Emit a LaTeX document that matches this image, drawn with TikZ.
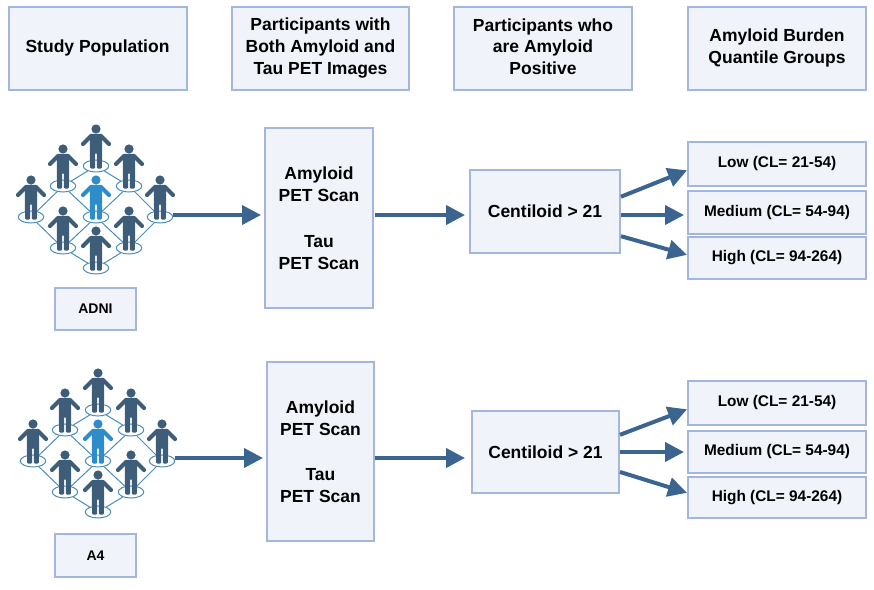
\documentclass[tikz,border=0pt]{standalone}
\usepackage{fontspec}
\setmainfont{Liberation Sans}
\usepackage{xcolor}
\usetikzlibrary{arrows.meta,shapes.geometric}
\definecolor{boxfill}{HTML}{F0F4FA}
\definecolor{boxline}{HTML}{A3B6DE}
\definecolor{flow}{HTML}{3B6491}
\definecolor{figure}{HTML}{3D5D78}
\definecolor{figureblue}{HTML}{2F8CCB}
\definecolor{net}{HTML}{4A8DBE}
\tikzstyle{box}=[draw=boxline,fill=boxfill,line width=2pt,inner sep=0pt,align=center,font=\fontsize{17.5}{22}\bfseries]
\tikzstyle{small}=[box,font=\fontsize{15.4}{18}\bfseries]
\tikzstyle{tag}=[box,font=\fontsize{14}{18}\bfseries]
\tikzstyle{flowline}=[draw=flow,line width=4pt,-{Triangle[length=19pt,width=19pt]}]
\tikzstyle{spot}=[draw=net,fill=white,ellipse,line width=1pt,minimum width=25.5pt,minimum height=12pt,inner sep=0pt]
\tikzstyle{link}=[draw=net,line width=1pt]
\tikzset{
  person/.pic={
    \fill (0,-37) circle (4.6);
    \draw [line width=4.2pt,line cap=round,line join=round] (-13,-22) -- (-5,-30) -- (5,-30) -- (13,-22);
    \fill [rounded corners=1pt] (-6.2,-32) -- (6.2,-32) -- (6.2,-14) -- (5.8,2.5) -- (0.8,2.5) -- (0.8,-13) -- (-0.8,-13) -- (-0.8,2.5) -- (-5.8,2.5) -- (-6.2,-14) -- cycle;
  }
}
\begin{document}
\begin{tikzpicture}[x=1pt,y=-1pt]
  \useasboundingbox (0,0) rectangle (874,589);
  % header row
  \node [box,minimum width=178pt,minimum height=83pt] (head1) at (97.5,48) {Study Population};
  \node [box,minimum width=177pt,minimum height=83pt] (head2) at (320.5,48) {Participants with\\Both Amyloid and\\Tau PET Images};
  \node [box,minimum width=178pt,minimum height=83pt] (head3) at (543,48) {Participants who\\[-0.5pt]are Amyloid\\[-0.5pt]Positive\\[-19pt]\mbox{}};
  \node [box,minimum width=178pt,minimum height=83pt] (head4) at (777,48) {\raisebox{-1pt}{Amyloid Burden}\\\raisebox{-1pt}{Quantile Groups}};
  % ADNI
  \node [tag,minimum width=81pt,minimum height=42pt] (adni) at (95.5,309) {ADNI};
  \node [box,minimum width=108pt,minimum height=180pt] (petA) at (319,218) {Amyloid\\PET Scan\\[23.5pt]Tau\\PET Scan};
  \node [box,minimum width=150pt,minimum height=83pt] (centA) at (545,211.5) {Centiloid > 21};
  \node [small,minimum width=178pt,minimum height=44pt] (lowA) at (777,164) {Low (CL= 21-54)};
  \node [small,minimum width=178pt,minimum height=43pt] (medA) at (777,212.5) {Medium (CL= 54-94)};
  \node [small,minimum width=178pt,minimum height=42pt] (highA) at (777,258) {High (CL= 94-264)};
  % A4
  \node [tag,minimum width=81pt,minimum height=43pt] (afour) at (95.5,555.5) {A4};
  \node [box,minimum width=107pt,minimum height=179pt] (petB) at (320.5,451.5) {Amyloid\\PET Scan\\[23.5pt]Tau\\PET Scan};
  \node [box,minimum width=147pt,minimum height=82pt] (centB) at (545.5,452) {Centiloid > 21};
  \node [small,minimum width=178pt,minimum height=44pt] (lowB) at (777,403) {Low (CL= 21-54)};
  \node [small,minimum width=178pt,minimum height=42pt] (medB) at (777,452) {Medium (CL= 54-94)};
  \node [small,minimum width=178pt,minimum height=41pt] (highB) at (777,497.5) {High (CL= 94-264)};
  % people
  \foreach \grp/\ox/\oy in {A/0/0,B/2/244}{
    \begin{scope}[shift={(\ox,\oy)}]
      \node [spot] (\grp t) at (96,166) {};
      \node [spot] (\grp l) at (63,186) {};
      \node [spot] (\grp r) at (129,186) {};
      \node [spot] (\grp ll) at (31,217) {};
      \node [spot] (\grp c) at (96,217) {};
      \node [spot] (\grp rr) at (160,217) {};
      \node [spot] (\grp m) at (63,248) {};
      \node [spot] (\grp n) at (129,248) {};
      \node [spot] (\grp b) at (96,268) {};
      \foreach \p/\q in {t/l,t/r,l/ll,l/c,r/c,r/rr,ll/m,c/m,c/n,rr/n,m/b,n/b}
        \draw [link] (\grp\p) -- (\grp\q);
      \foreach \p in {t,l,r,ll,rr,m,n,b}
        \path [fill=figure,draw=figure] (\grp\p.center) pic {person};
      \path [fill=figureblue,draw=figureblue] (\grp c.center) pic {person};
    \end{scope}
  }
  % arrows
  \coordinate (rowA) at (0,215);
  \coordinate (rowB) at (0,458);
  \draw [flowline,shorten >=3pt] (Arr.east |- rowA) -- (petA.west |- rowA);
  \draw [flowline,shorten >=4pt,shorten <=1pt] (petA.east |- rowA) -- (centA.west |- rowA);
  \draw [flowline] (centA.11.3) -- (lowA.184.5);
  \draw [flowline,shorten >=3pt] (centA.east |- rowA) -- (medA.west |- rowA);
  \draw [flowline] (centA.-18) -- (highA.178.4);
  \draw [flowline,shorten >=3pt] (Brr.east |- rowB) -- (petB.west |- rowB);
  \draw [flowline,shorten >=6pt] (petB.east |- rowB) -- (centB.west |- rowB);
  \draw [flowline] (centB.13.8) -- (lowB.184);
  \draw [flowline,shorten >=3pt] (centB.east) -- (medB.west);
  \draw [flowline] (centB.-15.2) -- (highB.177.75);
\end{tikzpicture}
\end{document}
